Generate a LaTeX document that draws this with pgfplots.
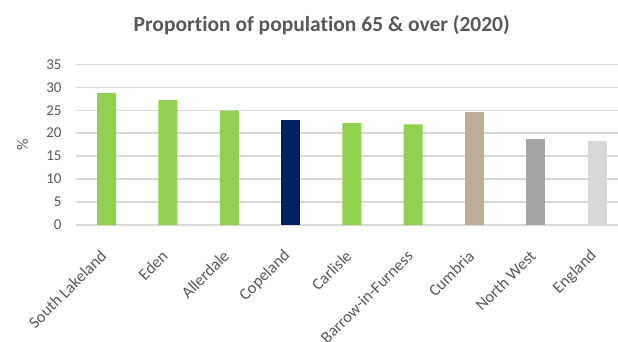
\documentclass[border=0pt]{standalone}
\usepackage{pgfplots}
\pgfplotsset{compat=1.18}
\usepackage{fontspec}
\setmainfont{Carlito}[Ligatures=NoCommon]
\definecolor{txtgray}{HTML}{595959}
\definecolor{gridgray}{HTML}{D9D9D9}
\definecolor{lgreen}{HTML}{92D050}
\definecolor{navy}{HTML}{002060}
\definecolor{taupe}{HTML}{BCAE98}
\definecolor{midgray}{HTML}{A5A5A5}
\definecolor{lightgray}{HTML}{D9D9D9}
\begin{document}
\begin{tikzpicture}
\useasboundingbox (0,0) rectangle (618pt,341pt);
\begin{scope}
\clip (0,0) rectangle (618pt,341pt);
\begin{axis}[
  at={(76pt,116pt)}, anchor=south west,
  scale only axis, width=542pt, height=160.7pt,
  xmin=-0.5, xmax=8.34, ymin=0, ymax=35,
  ytick={0,5,...,35},
  xtick={0,...,8},
  xticklabels={South Lakeland,Eden,Allerdale,Copeland,Carlisle,Barrow-in-Furness,Cumbria,North West,England},
  /pgf/number format/assume math mode=true,
  tick style={draw=none},
  axis line style={draw=none},
  ymajorgrids, grid style={gridgray, line width=1.4pt},
  yticklabel style={font=\fontsize{15}{15}\selectfont, text=txtgray, xshift=-11pt},
  xticklabel style={font=\fontsize{16.5}{16.5}\selectfont, text=txtgray, inner sep=0pt, xshift=-3pt, yshift=-24pt, rotate=45, anchor=east},
  ybar, bar width=19pt, bar shift=0pt,
  clip=false,
]
\addplot[fill=lgreen, draw=none] coordinates {(0,28.7) (1,27.2) (2,24.9) (4,22.2) (5,21.9)};
\addplot[fill=navy, draw=none] coordinates {(3,22.9)};
\addplot[fill=taupe, draw=none] coordinates {(6,24.7)};
\addplot[fill=midgray, draw=none] coordinates {(7,18.7)};
\addplot[fill=lightgray, draw=none] coordinates {(8,18.4)};
\end{axis}
\end{scope}
\node[anchor=base, text=txtgray, font=\bfseries\fontsize{21.5}{21.5}\selectfont] at (321.7pt,309.3pt) {Proportion of population 65 \& over (2020)};
\node[rotate=90, text=txtgray, font=\fontsize{16}{16}\selectfont] at (22.5pt,196pt) {\%};
\end{tikzpicture}
\end{document}
